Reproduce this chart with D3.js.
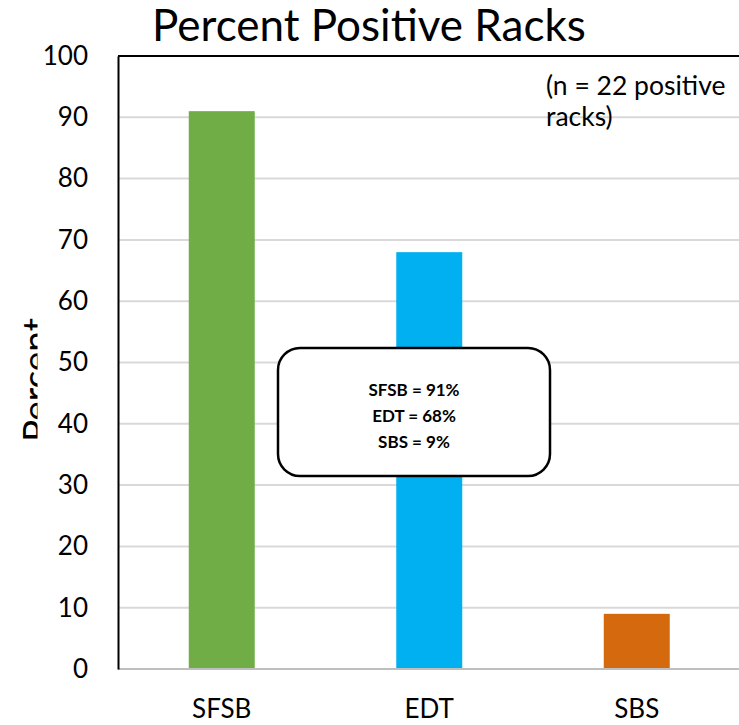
<!DOCTYPE html>
<html><head><meta charset="utf-8">
<script src="https://cdn.jsdelivr.net/npm/d3@7"></script>
<style>body{margin:0;background:#fff}svg{display:block}text{font-family:Lato,"Open Sans",sans-serif}</style>
</head><body>
<svg id="c" width="739" height="725"></svg>
<script>
const categories = ["SFSB", "EDT", "SBS"];
const values = [91, 68, 9];
const colors = ["#70AD47", "#00B0F0", "#D4690D"];
const yTicks = [0, 10, 20, 30, 40, 50, 60, 70, 80, 90, 100];
const title = "Percent Positive Racks";
const yLabel = "Percent";
const noteLines = ["(n = 22 positive", "racks)"];
const boxLines = ["SFSB = 91%", "EDT = 68%", "SBS = 9%"];

const svg = d3.select("#c");
const pLeft = 118, pRight = 740.5, pTop = 56, pBottom = 669;
const x = d3.scaleBand().domain(categories).range([pLeft, pRight]).paddingInner(0.682).paddingOuter(0.341);
const y = d3.scaleLinear().domain([0, 100]).range([pBottom, pTop]);

// y label, clipped
svg.append("clipPath").attr("id","lc").append("rect").attr("x",0).attr("y",0).attr("width",37.5).attr("height",725);
svg.append("g").attr("clip-path","url(#lc)").append("text")
  .attr("transform","translate(49,380) rotate(-90)")
  .attr("text-anchor","middle").attr("font-size",37).attr("fill","#000").text(yLabel);

// gridlines
svg.append("g").selectAll("line").data(yTicks.filter(d=>d>0 && d<100)).join("line")
  .attr("x1",pLeft).attr("x2",739).attr("y1",d=>y(d)).attr("y2",d=>y(d))
  .attr("stroke","#D9D9D9").attr("stroke-width",2);

// bars
svg.append("g").selectAll("rect").data(values).join("rect")
  .attr("x",(d,i)=>x(categories[i])).attr("width",x.bandwidth())
  .attr("y",d=>y(d)).attr("height",d=>y(0)-y(d))
  .attr("fill",(d,i)=>colors[i]);

// top border
svg.append("line").attr("x1",pLeft).attr("x2",739).attr("y1",pTop).attr("y2",pTop).attr("stroke","#000").attr("stroke-width",2);

// x axis
const xa = svg.append("g").attr("transform",`translate(0,${pBottom})`).call(d3.axisBottom(x).tickSize(0).tickPadding(31));
xa.select(".domain").attr("stroke","#BFBFBF").attr("stroke-width",2).attr("d",`M${pLeft},0H739`);
xa.selectAll("text").attr("font-size",26).attr("fill","#000").attr("font-family","Lato, sans-serif");

// y axis
const ya = svg.append("g").attr("transform",`translate(${pLeft},0)`).call(d3.axisLeft(y).tickValues(yTicks).tickSize(0).tickPadding(30));
ya.select(".domain").attr("stroke","#000").attr("stroke-width",2);
ya.selectAll("text").attr("font-size",26).attr("fill","#000").attr("font-family","Lato, sans-serif");

// title
svg.append("text").attr("x",369).attr("y",41).attr("text-anchor","middle").attr("font-size",44).attr("fill","#000").text(title);

// note
svg.append("text").attr("font-size",26.5).attr("fill","#000").selectAll("tspan").data(noteLines).join("tspan")
  .attr("x",546).attr("y",(d,i)=>95+i*31).text(d=>d);

// annotation box
svg.append("rect").attr("x",278).attr("y",348).attr("width",272).attr("height",128).attr("rx",22)
  .attr("fill","#fff").attr("stroke","#000").attr("stroke-width",2.5);
svg.append("g").selectAll("text").data(boxLines).join("text")
  .attr("x",414).attr("y",(d,i)=>396+i*26).attr("text-anchor","middle")
  .attr("font-size",17).attr("font-weight","bold").attr("fill","#000").text(d=>d);
</script>
</body></html>
